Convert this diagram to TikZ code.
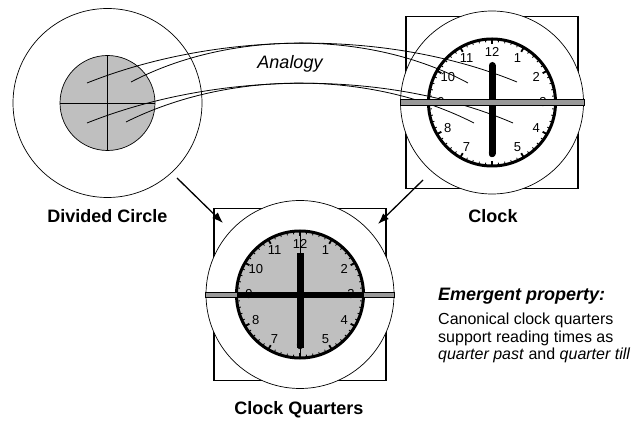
\documentclass[tikz,border=0pt]{standalone}
\usepackage{fontspec}
\setmainfont{Liberation Sans}
\usetikzlibrary{arrows.meta}

\definecolor{scheibe}{gray}{0.75}
\definecolor{balkengrau}{gray}{0.6}

\begin{document}
\begin{tikzpicture}[x=1pt, y=1pt, >={Latex[length=11pt,width=8pt]}]

\tikzset{
  rahmen/.style={draw, line width=1.3pt},
  ring/.style={circle, draw, fill=white, line width=0.7pt, inner sep=0pt},
  titel/.style={font=\fontsize{18}{20}\selectfont\bfseries, anchor=base},
  ziffer/.style={font=\fontsize{13}{13}\selectfont, inner sep=0pt},
  querbalken/.style={draw, fill=balkengrau, line width=0.7pt},
  analogie/.style={line width=0.8pt}
}

\useasboundingbox (0,0) rectangle (631,420);

% Geteilter Kreis
\node[ring, minimum size=189pt] (divided) at (107.5,317) {};
\node[circle, draw, fill=scheibe, line width=0.7pt, inner sep=0pt, minimum size=95pt] (disc) at (divided.center) {};
\draw[line width=0.7pt] (disc.north) -- (disc.south);
\draw[line width=0.7pt] (disc.west) -- (disc.east);

% Uhren: Rahmen, Ring, Zifferblatt, Striche, Ziffern
\foreach \name/\cx/\cy/\rr/\fc in {clock/492/317.5/91.5/white, quarters/300/125.5/94/scheibe} {
  \draw[rahmen] (\cx-86,\cy-86) rectangle (\cx+86,\cy+86);
  \node[ring, minimum size=\rr*2pt] (\name) at (\cx,\cy) {};
  \draw[line width=3pt, fill=\fc] (\cx,\cy) circle (63.5);
  \foreach \m in {0,...,59}
    \draw[line width=0.8pt] ([shift={(\m*6:60.5)}]\cx,\cy) -- ([shift={(\m*6:63)}]\cx,\cy);
  \foreach \m in {0,...,11}
    \draw[line width=1.8pt] ([shift={(\m*30:58.5)}]\cx,\cy) -- ([shift={(\m*30:63)}]\cx,\cy);
  \foreach \z in {1,...,12}
    \node[ziffer] (\name-\z) at ([shift={(90-\z*30:51)}]\cx,\cy) {\z};
}

% Analogie-Linien
\coordinate (p1) at (87,337);  \coordinate (q1) at (517,338);
\coordinate (p2) at (131,338); \coordinate (q2) at (468,337);
\coordinate (p3) at (87,297);  \coordinate (q3) at (513,297);
\coordinate (p4) at (126,298); \coordinate (q4) at (474,297);
\draw[analogie] (p1) .. controls (220,390) and (390,390) .. (q1);
\draw[analogie] (p2) .. controls (230,390) and (370,390) .. (q2);
\draw[analogie] (p3) .. controls (220,350) and (390,350) .. (q3);
\draw[analogie] (p4) .. controls (230,350) and (370,350) .. (q4);
\node[font=\fontsize{18}{20}\selectfont\itshape, anchor=base] (analogy) at (290,351.5) {Analogy};

% Zeiger der Uhr
\draw[line width=7pt, line cap=round] (492,354.5) -- (492,266.5);
\draw[querbalken] ([yshift=-3pt]clock.west) rectangle ([yshift=3pt]clock.east);

% Zeiger der Viertel
\draw[querbalken] ([yshift=-2.5pt]quarters.west) rectangle ([yshift=2.5pt]quarters.east);
\draw[line width=5pt] (236.5,125.5) -- (363.5,125.5);
\draw[line width=0.8pt] (300,188) -- (300,63);
\fill (296.5,72) rectangle (303.5,167);

% Pfeile
\coordinate (a1) at (177,242); \coordinate (b1) at (223,197);
\coordinate (a2) at (423,240); \coordinate (b2) at (378,196);
\draw[->, line width=1.3pt] (a1) -- (b1);
\draw[->, line width=1.3pt] (a2) -- (b2);

% Beschriftungen
\node[titel] (divlabel) at (107.5,197.5) {Divided Circle};
\node[titel] (clocklabel) at (493,197.5) {Clock};
\node[titel] (quarterlabel) at (299,5.5) {Clock Quarters};

% Emergente Eigenschaft
\node[anchor=base west, inner sep=0pt, font=\fontsize{18}{20}\selectfont\bfseries\itshape] (emergent) at (438,119) {Emergent property:};
\node[anchor=north west, inner sep=0pt, align=left, font=\fontsize{16}{17.5}\selectfont] (property) at (438,107) {Canonical clock quarters\\support reading times as\\\textit{quarter past} and \textit{quarter till}};

\end{tikzpicture}
\end{document}
